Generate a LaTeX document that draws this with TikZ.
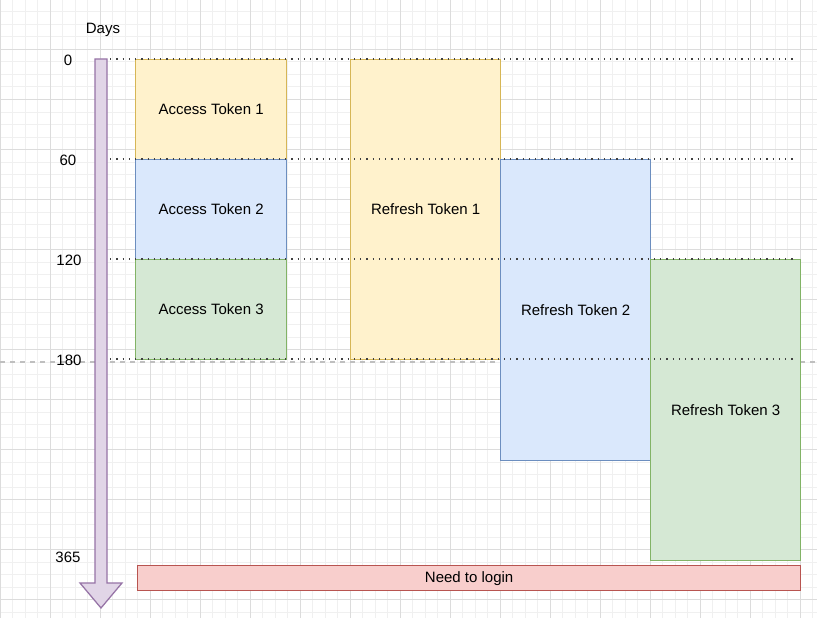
\documentclass[tikz,border=0pt]{standalone}
\usepackage{fontspec}
\setmainfont{Liberation Sans}
\definecolor{yfill}{HTML}{FFF2CC}\definecolor{ydraw}{HTML}{D6B656}
\definecolor{bfill}{HTML}{DAE8FC}\definecolor{bdraw}{HTML}{6C8EBF}
\definecolor{gfill}{HTML}{D5E8D4}\definecolor{gdraw}{HTML}{82B366}
\definecolor{rfill}{HTML}{F8CECC}\definecolor{rdraw}{HTML}{B85450}
\definecolor{pfill}{HTML}{E1D5E7}\definecolor{pdraw}{HTML}{9673A6}
\definecolor{minorgrid}{HTML}{F0F0F0}\definecolor{majorgrid}{HTML}{DCDCDC}
\tikzset{
  every node/.style={font=\fontsize{15}{18}\selectfont, inner sep=0pt},
  box/.style={draw, line width=1.25pt, anchor=north west, minimum width=150pt, align=center},
  yel/.style={box, fill=yfill, draw=ydraw},
  blu/.style={box, fill=bfill, draw=bdraw},
  grn/.style={box, fill=gfill, draw=gdraw},
  minorline/.style={minorgrid, line width=1pt},
  majorline/.style={majorgrid, line width=1pt},
  dotline/.style={black!75, line width=1.25pt, dash pattern=on 1.25pt off 5pt},
  pageline/.style={gray!50, line width=1.25pt, dash pattern=on 5pt off 5pt},
  lbl/.style={anchor=center}
}
\begin{document}
\begin{tikzpicture}[x=1pt,y=-1pt]
\fill[white] (0,0) rectangle (817,618);
\useasboundingbox (0,0) rectangle (817,618);
% grid
\foreach \i in {0,...,66} {\draw[minorline] (\i*12.5,0) -- (\i*12.5,618);}
\foreach \j in {0,...,50} {\draw[minorline] (0,\j*12.5-0.5) -- (817,\j*12.5-0.5);}
\foreach \i in {0,...,16} {\draw[majorline] (\i*50,0) -- (\i*50,618);}
\foreach \j in {0,...,12} {\draw[majorline] (0,\j*50-0.5) -- (817,\j*50-0.5);}
% page break line
\coordinate (pbL) at (0,362);
\coordinate (pbR) at (817,362);
\draw[pageline] (pbL) -- (pbR);
% arrow
\draw[fill=pfill, draw=pdraw, line width=1.25pt, line join=miter]
  (95,59) -- (107,59) -- (107,583) -- (122,583) -- (101,608) -- (80,583) -- (95,583) -- cycle;
% labels
\node[lbl] (days) at (103,30) {Days};
\node[lbl] (d0) at (68,60) {0};
\node[lbl] (d60) at (68,160) {60};
\node[lbl] (d120) at (69,260) {120};
\node[lbl] (d180) at (69,360) {180};
\node[lbl] (d365) at (68,557) {365};
% boxes
\node[yel, minimum width=151pt, minimum height=100pt] (at1) at (135,59) {Access Token 1};
\node[blu, minimum width=151pt, minimum height=100pt] (at2) at (135,159) {Access Token 2};
\node[grn, minimum width=151pt, minimum height=100pt] (at3) at (135,259) {Access Token 3};
\node[yel, minimum height=300pt] (rt1) at (350,59) {Refresh Token 1};
\node[blu, minimum height=301pt] (rt2) at (500,159) {Refresh Token 2};
\node[grn, minimum height=301pt] (rt3) at (650,259) {Refresh Token 3};
\node[box, fill=rfill, draw=rdraw, minimum width=663pt, minimum height=25pt] (login) at (137,565) {Need to login};
% dotted day lines
\foreach \y/\n in {59/a,159/b,259/c,359/d} {
  \coordinate (s\n) at (110,\y);
  \coordinate (e\n) at (795,\y);
  \draw[dotline] (s\n) -- (e\n);
}
\end{tikzpicture}
\end{document}
